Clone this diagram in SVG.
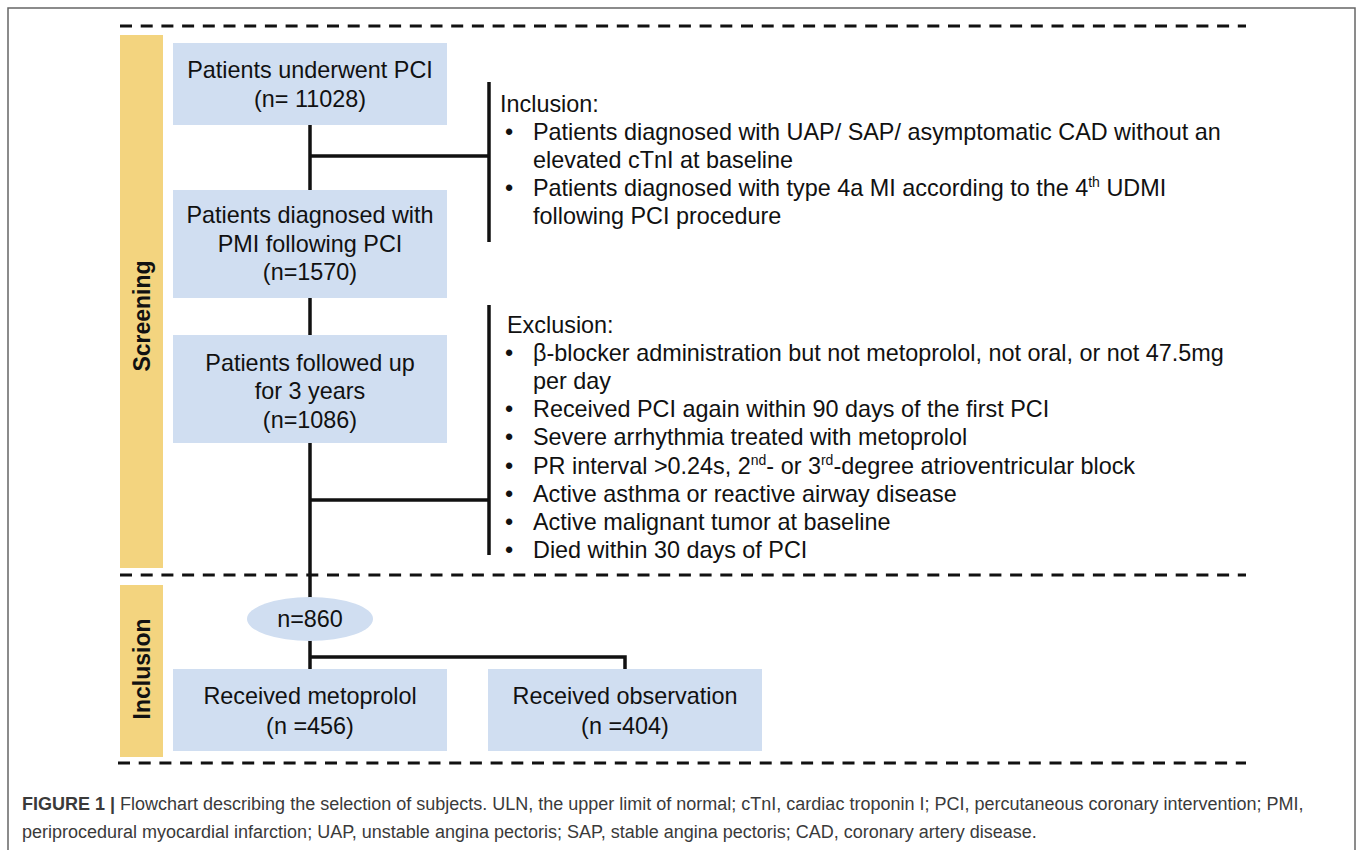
<svg xmlns="http://www.w3.org/2000/svg" width="1357" height="850" viewBox="0 0 1357 850">
<style>
.t{font-family:"Liberation Sans",Arial,sans-serif;font-size:23.4px;fill:#111}
.c{text-anchor:middle}
.side{font-family:"Liberation Sans",Arial,sans-serif;font-size:23px;font-weight:bold;fill:#111;text-anchor:middle}
.box{fill:#D0DEF1}
.bar{fill:#F3D47F}
.dash{stroke:#111;stroke-width:3;stroke-dasharray:12 8.7;fill:none}
.ln{stroke:#111;stroke-width:3.5;fill:none}
.cap{font-family:"Liberation Sans",Arial,sans-serif;font-size:18px;fill:#3a3a3a}
.sup{font-size:14px}
</style>
<rect x="8" y="8" width="1347" height="860" fill="#fff" stroke="#666" stroke-width="1.5"/>
<g id="dividers">
<line class="dash" x1="120" y1="26" x2="1246" y2="26"/>
<line class="dash" x1="120" y1="575" x2="1246" y2="575"/>
<line class="dash" x1="118" y1="763" x2="1246" y2="763"/>
</g>
<g id="lane-screening">
<rect class="bar" x="120" y="35" width="43" height="533"/>
<text class="side" transform="translate(150,316) rotate(-90)">Screening</text>
</g>
<g id="lane-inclusion">
<rect class="bar" x="120" y="585" width="43" height="172"/>
<text class="side" transform="translate(150,669) rotate(-90)">Inclusion</text>
</g>
<g id="connectors">
<line class="ln" x1="310" y1="125" x2="310" y2="190"/>
<line class="ln" x1="310" y1="156" x2="489" y2="156"/>
<line class="ln" x1="489" y1="82" x2="489" y2="242"/>
<line class="ln" x1="310" y1="298" x2="310" y2="335"/>
<line class="ln" x1="310" y1="443" x2="310" y2="598"/>
<line class="ln" x1="310" y1="500" x2="489" y2="500"/>
<line class="ln" x1="489" y1="305" x2="489" y2="555"/>
<polyline class="ln" points="310,640 310,669"/>
<polyline class="ln" points="310,657 625,657 625,669"/>
</g>
<g id="n1">
<rect class="box" x="173" y="43" width="274" height="82"/>
<text class="t c" x="310" y="78">Patients underwent PCI</text>
<text class="t c" x="310" y="107">(n= 11028)</text>
</g>
<g id="n2">
<rect class="box" x="173" y="190" width="274" height="108"/>
<text class="t c" x="310" y="223">Patients diagnosed with</text>
<text class="t c" x="310" y="252">PMI following PCI</text>
<text class="t c" x="310" y="280">(n=1570)</text>
</g>
<g id="n3">
<rect class="box" x="173" y="335" width="274" height="108"/>
<text class="t c" x="310" y="371">Patients followed up</text>
<text class="t c" x="310" y="399">for 3 years</text>
<text class="t c" x="310" y="428">(n=1086)</text>
</g>
<g id="inclusion-criteria">
<text class="t" x="500" y="112">Inclusion:</text>
<text class="t" x="505" y="140">•</text>
<text class="t" x="533" y="140">Patients diagnosed with UAP/ SAP/ asymptomatic CAD without an</text>
<text class="t" x="533" y="168">elevated cTnI at baseline</text>
<text class="t" x="505" y="196">•</text>
<text class="t" x="533" y="196">Patients diagnosed with type 4a MI according to the 4<tspan class="sup" dy="-9">th</tspan><tspan dy="9"> UDMI</tspan></text>
<text class="t" x="533" y="224">following PCI procedure</text>
</g>
<g id="exclusion-criteria">
<text class="t" x="507" y="333">Exclusion:</text>
<text class="t" x="505" y="361">•</text>
<text class="t" x="533" y="361">β-blocker administration but not metoprolol, not oral, or not 47.5mg</text>
<text class="t" x="533" y="389">per day</text>
<text class="t" x="505" y="417">•</text>
<text class="t" x="533" y="417">Received PCI again within 90 days of the first PCI</text>
<text class="t" x="505" y="445">•</text>
<text class="t" x="533" y="445">Severe arrhythmia treated with metoprolol</text>
<text class="t" x="505" y="474">•</text>
<text class="t" x="533" y="474">PR interval &gt;0.24s, 2<tspan class="sup" dy="-9">nd</tspan><tspan dy="9">- or 3</tspan><tspan class="sup" dy="-9">rd</tspan><tspan dy="9">-degree atrioventricular block</tspan></text>
<text class="t" x="505" y="502">•</text>
<text class="t" x="533" y="502">Active asthma or reactive airway disease</text>
<text class="t" x="505" y="530">•</text>
<text class="t" x="533" y="530">Active malignant tumor at baseline</text>
<text class="t" x="505" y="558">•</text>
<text class="t" x="533" y="558">Died within 30 days of PCI</text>
</g>
<g id="n4">
<ellipse cx="310" cy="619" rx="63" ry="22" fill="#D0DEF1"/>
<text class="t c" x="310" y="627">n=860</text>
</g>
<g id="n5">
<rect class="box" x="173" y="669" width="274" height="82"/>
<text class="t c" x="310" y="704">Received metoprolol</text>
<text class="t c" x="310" y="734">(n =456)</text>
</g>
<g id="n6">
<rect class="box" x="488" y="669" width="274" height="82"/>
<text class="t c" x="625" y="704">Received observation</text>
<text class="t c" x="625" y="734">(n =404)</text>
</g>
<g id="caption">
<text class="cap" x="22" y="810"><tspan font-weight="bold">FIGURE 1 |</tspan> Flowchart describing the selection of subjects. ULN, the upper limit of normal; cTnI, cardiac troponin I; PCI, percutaneous coronary intervention; PMI,</text>
<text class="cap" x="22" y="838">periprocedural myocardial infarction; UAP, unstable angina pectoris; SAP, stable angina pectoris; CAD, coronary artery disease.</text>
</g>
</svg>
